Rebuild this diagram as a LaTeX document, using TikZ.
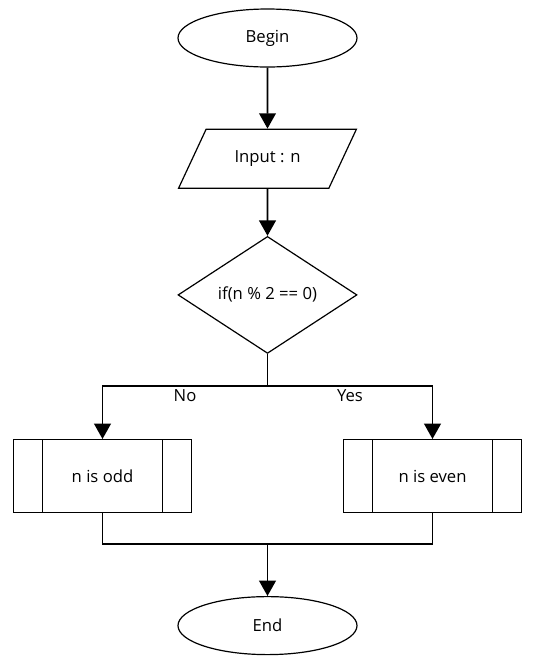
\documentclass[tikz,border=0pt]{standalone}
\usepackage{fontspec}
\setmainfont{Open Sans}
\usetikzlibrary{positioning,shapes.geometric,arrows.meta}

\begin{document}
\begin{tikzpicture}[
      nodes={
        draw=black, line width=0.9pt, fill=white, font=\fontsize{12.5}{15}\selectfont,
        inner sep=2pt
      },
      terminal/.style={ellipse, minimum width=134.25pt, minimum height=43.5pt},
      inout/.style={trapezium, trapezium left angle=53, trapezium right angle=127,
        trapezium stretches=true, minimum width=133.5pt, minimum height=44.25pt},
      decision/.style={diamond, aspect=1.5, minimum width=134.25pt, minimum height=87.75pt},
      process/.style={rectangle, minimum width=133.5pt, minimum height=54.75pt,
        path picture={
          \draw ([xshift=22pt]path picture bounding box.north west)
            -- ([xshift=22pt]path picture bounding box.south west);
          \draw ([xshift=-22pt]path picture bounding box.north east)
            -- ([xshift=-22pt]path picture bounding box.south east);
        }},
      label/.style={draw=none, fill=none},
      line/.style={line width=1.4pt},
      arrow/.style={line width=1.4pt, ->},
      >={Triangle[width=12.5pt,length=11.5pt]}
      ]

  % Canvas
  \path[fill=white] (0,0) rectangle (404.25pt,-504pt);

  % Define nodes
  \node[terminal]                                    (begin) at (200.625pt,-28.5pt) {Begin};
  \node[inout, below=45.75pt of begin]               (input) {Input : n};
  \node[decision, below=35.25pt of input]            (dec)   {if(n \% 2 == 0)};
  \node[process, below=63.75pt of dec, xshift=-123.75pt] (odd)  {n is odd};
  \node[process, below=63.75pt of dec, xshift=123.75pt]  (even) {n is even};
  \node[terminal, below=181.5pt of dec]              (end)   {End};

  % Connect the nodes
  \draw[arrow] (begin) -- (input);
  \draw[arrow] (input) -- (dec);
  \draw[arrow] (dec.south) -- ++(0,-24pt) -| node[label, below, pos=0.25] {No} (odd.north);
  \draw[arrow] (dec.south) -- ++(0,-24pt) -| node[label, below, pos=0.25] {Yes} (even.north);
  \draw[line] (odd.south) -- ++(0,-23.25pt) coordinate (join) -| (even.south);
  \draw[arrow] (join -| end.north) -- (end.north);

\end{tikzpicture}
\end{document}
